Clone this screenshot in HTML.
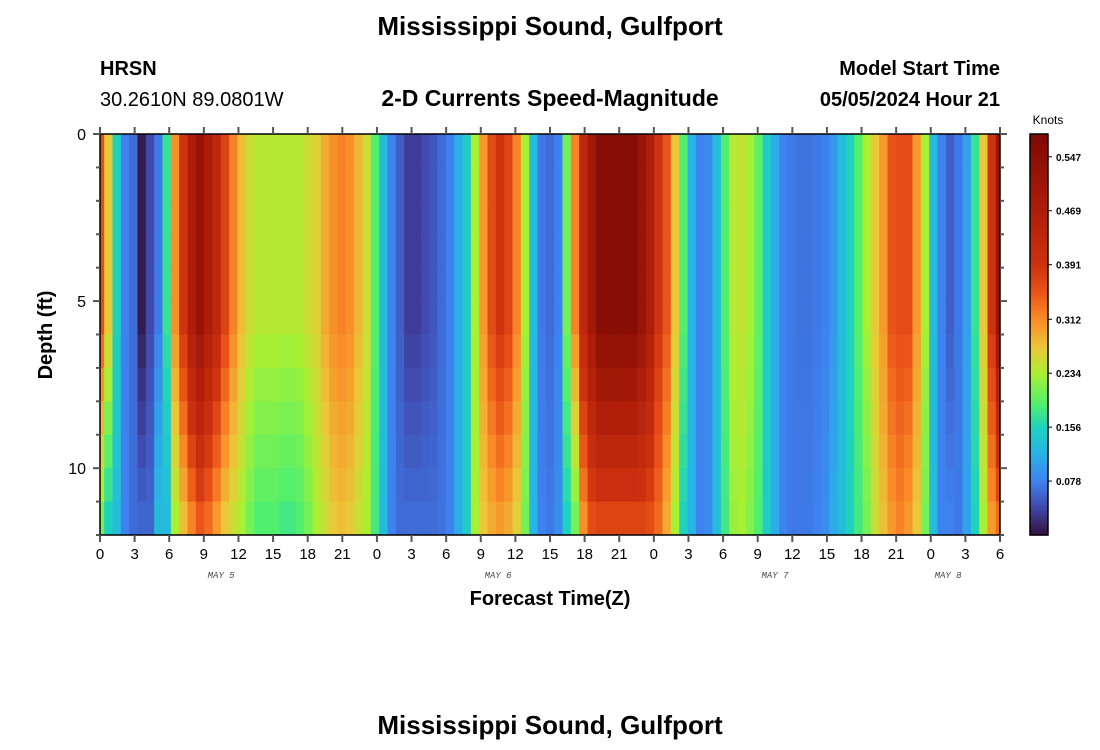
<!DOCTYPE html>
<html><head><meta charset="utf-8"><style>
html,body{margin:0;padding:0;background:#fff;}
svg{display:block;font-family:"Liberation Sans",Arial,sans-serif;}
</style></head><body>
<svg id="chart" width="1100" height="750" viewBox="0 0 1100 750">
<text x="550" y="35" text-anchor="middle" font-size="26" font-weight="bold">Mississippi Sound, Gulfport</text>
<text x="100" y="75" font-size="20" font-weight="bold">HRSN</text>
<text x="100" y="106" font-size="20">30.2610N  89.0801W</text>
<text x="550" y="106" text-anchor="middle" font-size="23" font-weight="bold">2-D Currents Speed-Magnitude</text>
<text x="1000" y="75" text-anchor="end" font-size="20" font-weight="bold">Model Start Time</text>
<text x="1000" y="106" text-anchor="end" font-size="20" font-weight="bold">05/05/2024 Hour 21</text>
<g id="heat"></g>
<g id="axes"></g>
<text transform="translate(52,335) rotate(-90)" text-anchor="middle" font-size="20" font-weight="bold">Depth (ft)</text>
<text x="550" y="605" text-anchor="middle" font-size="20" font-weight="bold">Forecast Time(Z)</text>
<text x="1048" y="124" text-anchor="middle" font-size="12">Knots</text>
<g id="cbar"></g>
<text x="550" y="734" text-anchor="middle" font-size="26" font-weight="bold">Mississippi Sound, Gulfport</text>
</svg>
<script>
const surfaceSpeed = [0.36,0.27,0.156,0.078,0.064,0.008,0.042,0.073,0.173,0.31,
0.39,0.473,0.52,0.473,0.43,0.37,0.318,0.277,0.252,0.24,
0.24,0.24,0.24,0.24,0.24,0.252,0.264,0.29,0.31,0.318,
0.31,0.283,0.252,0.19,0.13,0.078,0.055,0.033,0.033,0.042,
0.05,0.064,0.078,0.113,0.147,0.234,0.303,0.36,0.39,0.37,
0.318,0.234,0.13,0.073,0.064,0.078,0.208,0.318,0.43,0.497,
0.56,0.56,0.56,0.56,0.56,0.52,0.473,0.39,0.352,0.27,
0.19,0.121,0.078,0.087,0.13,0.19,0.24,0.246,0.234,0.199,
0.147,0.113,0.078,0.073,0.069,0.069,0.073,0.078,0.095,0.13,
0.156,0.19,0.234,0.27,0.303,0.352,0.36,0.36,0.303,0.234,
0.13,0.078,0.055,0.073,0.104,0.173,0.27,0.39,0.52];
const bottomSpeed = [0.208,0.156,0.13,0.078,0.064,0.06,0.06,0.13,0.13,0.234,
0.277,0.318,0.352,0.335,0.303,0.27,0.252,0.234,0.208,0.19,
0.19,0.19,0.181,0.181,0.19,0.208,0.234,0.252,0.27,0.277,
0.27,0.252,0.234,0.181,0.13,0.078,0.064,0.064,0.064,0.064,
0.064,0.069,0.078,0.113,0.147,0.234,0.27,0.29,0.303,0.29,
0.264,0.208,0.121,0.078,0.073,0.087,0.156,0.208,0.31,0.36,
0.37,0.37,0.37,0.37,0.37,0.37,0.36,0.335,0.29,0.234,
0.156,0.121,0.078,0.087,0.13,0.181,0.225,0.234,0.216,0.19,
0.147,0.113,0.078,0.073,0.073,0.073,0.078,0.087,0.113,0.13,
0.156,0.181,0.208,0.252,0.277,0.303,0.318,0.303,0.27,0.208,
0.13,0.078,0.078,0.073,0.104,0.156,0.234,0.303,0.335];
const xTickLabels = ["0","3","6","9","12","15","18","21","0","3","6","9","12","15","18","21","0","3","6","9","12","15","18","21","0","3","6"];
const dayLabels = ["MAY 5","MAY 6","MAY 7","MAY 8"];
const dayLabelHours = [10.5,34.5,58.5,73.5];
const yTickLabels = ["0","5","10"];
const colorbarTicks = ["0.078","0.156","0.234","0.312","0.391","0.469","0.547"];

const NS="http://www.w3.org/2000/svg";
const X0=100,X1=1000,Y0=134,Y1=535,HOURS=78,DEPTH=12,VMAX=0.58;
const xScale=h=>X0+(h/HOURS)*(X1-X0);
const yScale=d=>Y0+(d/DEPTH)*(Y1-Y0);
const stops=[[0,[48,18,59]],[0.04,[65,70,170]],[0.078,[62,130,240]],[0.12,[40,180,230]],[0.156,[30,210,190]],[0.19,[80,240,110]],[0.234,[170,240,50]],[0.27,[235,200,55]],[0.312,[250,140,40]],[0.35,[235,85,25]],[0.391,[205,50,15]],[0.469,[175,30,10]],[0.547,[140,15,5]],[0.6,[120,5,5]]];
function cmap(v){
 if(v<=0)return `rgb(${stops[0][1]})`;
 for(let i=1;i<stops.length;i++){if(v<=stops[i][0]){const a=stops[i-1],b=stops[i],f=(v-a[0])/(b[0]-a[0]);
  return `rgb(${a[1].map((c,j)=>Math.round(c+(b[1][j]-c)*f)).join(',')})`;}}
 return `rgb(${stops[stops.length-1][1]})`;}
function mk(tag,attrs,parent){const e=document.createElementNS(NS,tag);for(const k in attrs)e.setAttribute(k,attrs[k]);parent.appendChild(e);return e;}

const heat=document.getElementById('heat');
const n=surfaceSpeed.length, step=HOURS/(n-1);
for(let k=0;k<n;k++){
 const h0=Math.max(0,(k-0.5)*step),h1=Math.min(HOURS,(k+0.5)*step);
 for(let r=0;r<DEPTH;r++){
  const w=r<=5?0:(r-5)/6;
  const v=surfaceSpeed[k]*(1-w)+bottomSpeed[k]*w;
  const x=xScale(h0),y=yScale(r);
  const el=mk('rect',{x:x,y:y,width:xScale(h1)-x+0.5,height:yScale(r+1)-y+0.5,fill:cmap(v)},heat);
  
  
 }
}
const ax=document.getElementById('axes');
mk('rect',{x:X0,y:Y0,width:X1-X0,height:Y1-Y0,fill:'none',stroke:'#000','stroke-width':1.5},ax);
xTickLabels.forEach((lab,i)=>{const h=i*3,x=xScale(h);
 mk('line',{x1:x,x2:x,y1:Y0-7,y2:Y0,stroke:'#555','stroke-width':2},ax);
 mk('line',{x1:x,x2:x,y1:Y1,y2:Y1+7,stroke:'#555','stroke-width':2},ax);
 const t=mk('text',{x:x,y:559,'text-anchor':'middle','font-size':15},ax);t.textContent=lab;
 
 
});
dayLabels.forEach((lab,i)=>{const t=mk('text',{x:xScale(dayLabelHours[i]),y:578,'text-anchor':'middle','font-size':9,'font-style':'italic','font-family':'Liberation Mono, monospace',fill:'#444'},ax);t.textContent=lab;
 
 
});
for(let d=0;d<=DEPTH;d++){const y=yScale(d),L=d%5===0?7:4;
 mk('line',{x1:X0-L,x2:X0,y1:y,y2:y,stroke:'#555','stroke-width':2},ax);
 mk('line',{x1:X1,x2:X1+L,y1:y,y2:y,stroke:'#555','stroke-width':2},ax);}
yTickLabels.forEach(lab=>{const y=yScale(+lab);const t=mk('text',{x:86,y:y+6,'text-anchor':'end','font-size':16},ax);t.textContent=lab;
 
 
});
const cb=document.getElementById('cbar');
const CX=1030,CW=18;
for(let i=0;i<200;i++){const y=Y1-(i+1)*(Y1-Y0)/200;mk('rect',{x:CX,y:y,width:CW,height:(Y1-Y0)/200+0.6,fill:cmap((i+0.5)/200*VMAX)},cb);}
mk('rect',{x:CX,y:Y0,width:CW,height:Y1-Y0,fill:'none',stroke:'#000','stroke-width':1.5},cb);
colorbarTicks.forEach(lab=>{const y=Y1-(+lab/VMAX)*(Y1-Y0);
 mk('line',{x1:CX+CW,x2:CX+CW+4,y1:y,y2:y,stroke:'#000'},cb);
 const t=mk('text',{x:CX+CW+8,y:y+4,'font-size':10,'font-weight':'bold'},cb);t.textContent=lab;
 
 
});
</script>
</body></html>
